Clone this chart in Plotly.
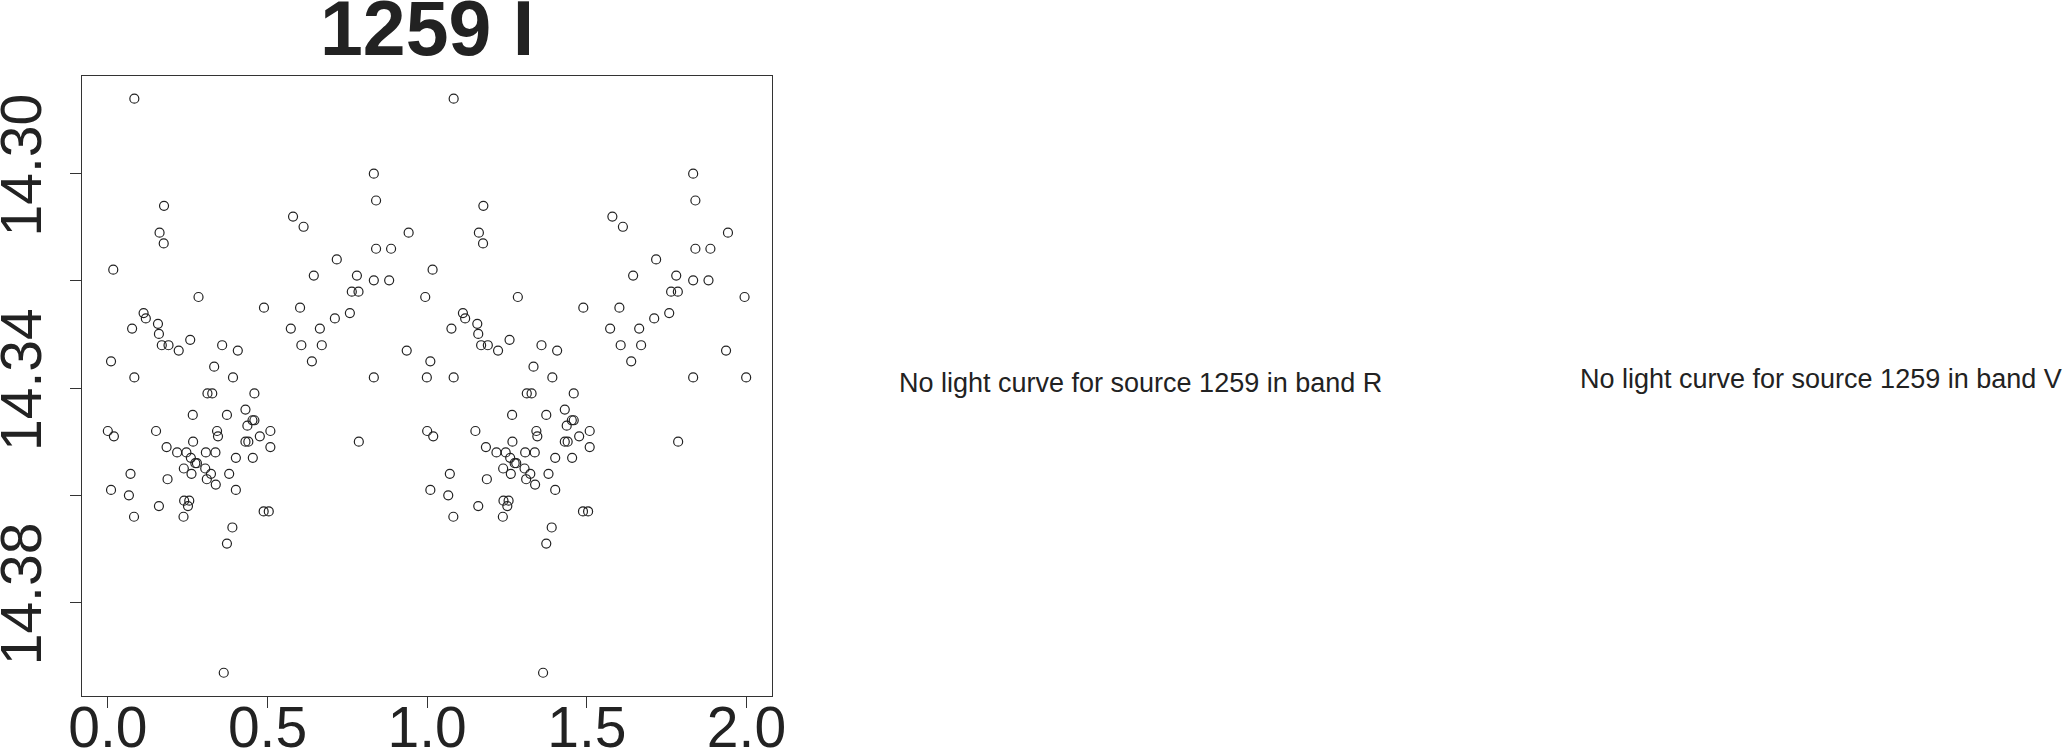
import plotly.graph_objects as go

# Phased light curve of source 1259 in band I (phase in [0,1), shown twice)
phase = [0.083, 0.833, 0.840, 0.176, 0.580, 0.613, 0.162, 0.175, 0.942, 0.840,
         0.887, 0.717, 0.017, 0.645, 0.780, 0.833, 0.881,
         0.284, 0.764, 0.785, 0.994, 0.489, 0.602, 0.112, 0.119, 0.758,
         0.711, 0.076, 0.157, 0.573, 0.664, 0.160, 0.258, 0.169, 0.190,
         0.222, 0.358, 0.407, 0.606, 0.670, 0.936, 0.010, 0.333, 0.639,
         0.083, 0.392, 0.833, 0.999, 0.312, 0.327, 0.459, 0.431, 0.266,
         0.373, 0.453, 0.459, 0.437, 0.000, 0.019, 0.151, 0.342, 0.345,
         0.509, 0.476, 0.267, 0.431, 0.440, 0.786, 0.184, 0.509, 0.217,
         0.246, 0.307, 0.337, 0.260, 0.401, 0.454, 0.274, 0.279, 0.238,
         0.305, 0.262, 0.323, 0.380, 0.071, 0.187, 0.310, 0.338, 0.010,
         0.401, 0.066, 0.160, 0.239, 0.255, 0.251, 0.082, 0.237, 0.488,
         0.504, 0.390, 0.373, 0.363]
mag = [14.2860, 14.3000, 14.3050, 14.3060, 14.3080, 14.3099, 14.3110, 14.3130, 14.3110, 14.3140,
       14.3140, 14.3160, 14.3179, 14.3190, 14.3190, 14.3199, 14.3199,
       14.3230, 14.3220, 14.3220, 14.3230, 14.3250, 14.3250, 14.3260, 14.3270, 14.3260,
       14.3270, 14.3289, 14.3280, 14.3289, 14.3289, 14.3299, 14.3310, 14.3320, 14.3320,
       14.3330, 14.3320, 14.3330, 14.3320, 14.3320, 14.3330, 14.3350, 14.3360, 14.3350,
       14.3380, 14.3380, 14.3380, 14.3380, 14.3410, 14.3410, 14.3410, 14.3440, 14.3450,
       14.3450, 14.3460, 14.3460, 14.3470, 14.3480, 14.3490, 14.3480, 14.3480, 14.3490,
       14.3480, 14.3490, 14.3500, 14.3500, 14.3500, 14.3500, 14.3510, 14.3510, 14.3520,
       14.3520, 14.3520, 14.3520, 14.3530, 14.3530, 14.3530, 14.3540, 14.3540, 14.3550,
       14.3550, 14.3560, 14.3560, 14.3560, 14.3560, 14.3570, 14.3570, 14.3580, 14.3590,
       14.3590, 14.3600, 14.3620, 14.3610, 14.3610, 14.3620, 14.3640, 14.3640, 14.3630,
       14.3630, 14.3660, 14.3690, 14.3931]
assert len(phase) == len(mag)

x_ticks = [0.0, 0.5, 1.0, 1.5, 2.0]
x_ticktext = ["0.0", "0.5", "1.0", "1.5", "2.0"]
y_ticks = [14.30, 14.32, 14.34, 14.36, 14.38]
y_ticktext = ["14.30", "", "14.34", "", "14.38"]

title_text = "1259 I"
msg_R = "No light curve for source 1259 in band R"
msg_V = "No light curve for source 1259 in band V"

xs = phase + [p + 1 for p in phase]
ys = mag + mag

xr = max(xs) - min(xs)
yr = max(ys) - min(ys)
x_range = [min(xs) - 0.04 * xr, max(xs) + 0.04 * xr]
y_range = [max(ys) + 0.04 * yr, min(ys) - 0.04 * yr]

W, H = 2066, 753
INK = "#222222"
FONT = "Liberation Sans, Arial, Helvetica, sans-serif"

fig = go.Figure()
fig.add_trace(go.Scatter(
    x=xs, y=ys, mode="markers",
    marker=dict(symbol="circle-open", size=9, color=INK, line=dict(width=1.2, color=INK)),
    hoverinfo="x+y", showlegend=False,
))

fig.update_layout(
    template="none",
    width=W, height=H, autosize=False,
    margin=dict(l=0, r=0, t=0, b=0, pad=0),
    paper_bgcolor="white", plot_bgcolor="white",
    font=dict(family=FONT, color=INK),
    xaxis=dict(
        domain=[82.3 / W, 771.7 / W], range=x_range, automargin=False,
        tickvals=x_ticks, ticktext=x_ticktext,
        ticks="outside", ticklen=11, tickwidth=1.3, tickcolor="#333333",
        showline=True, mirror=True, linecolor="#333333", linewidth=1.3,
        showgrid=False, zeroline=False,
        tickfont=dict(size=57, family=FONT, color=INK),
        ticklabelstandoff=-29,
    ),
    yaxis=dict(
        domain=[1 - 695.7 / H, 1 - 75.7 / H], range=y_range, automargin=False,
        tickvals=y_ticks, ticktext=y_ticktext, tickangle=-90,
        ticks="outside", ticklen=11, tickwidth=1.3, tickcolor="#333333",
        showline=True, mirror=True, linecolor="#333333", linewidth=1.3,
        showgrid=False, zeroline=False,
        tickfont=dict(size=57, family=FONT, color=INK),
        ticklabelstandoff=6,
    ),
    annotations=[
        dict(text="<b>" + title_text + "</b>", xref="paper", yref="paper",
             x=427 / W, y=1 - 28 / H, xanchor="center", yanchor="middle",
             showarrow=False, font=dict(size=77, family=FONT, color=INK)),
        dict(text=msg_R, xref="paper", yref="paper",
             x=1140 / W, y=1 - 383 / H, xanchor="center", yanchor="middle",
             showarrow=False, font=dict(size=27, family=FONT, color=INK)),
        dict(text=msg_V, xref="paper", yref="paper",
             x=1820.5 / W, y=1 - 379 / H, xanchor="center", yanchor="middle",
             showarrow=False, font=dict(size=27, family=FONT, color=INK)),
    ],
)

fig.write_html(
    "out.html",
    config={"displayModeBar": False},
    post_script="document.body.style.margin='0';document.body.style.overflow='hidden';",
)
